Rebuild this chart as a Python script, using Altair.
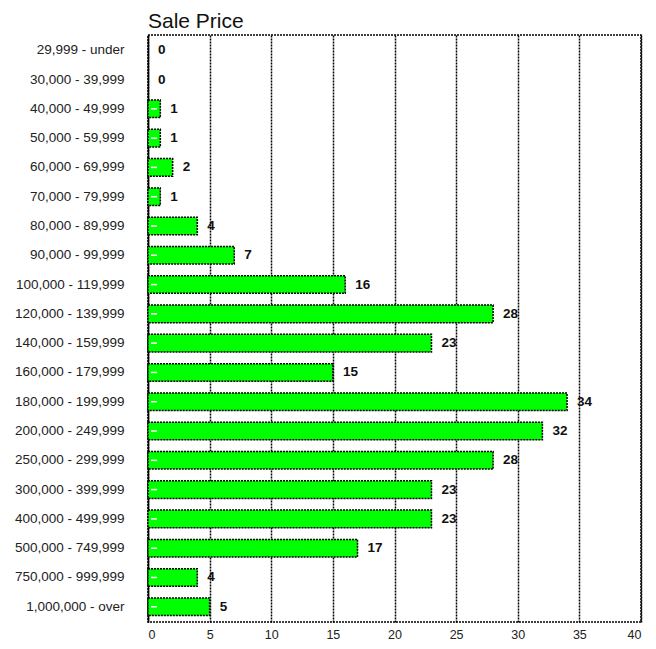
import altair as alt
import pandas as pd

categories = ["29,999 - under", "30,000 - 39,999", "40,000 - 49,999", "50,000 - 59,999",
              "60,000 - 69,999", "70,000 - 79,999", "80,000 - 89,999", "90,000 - 99,999",
              "100,000 - 119,999", "120,000 - 139,999", "140,000 - 159,999", "160,000 - 179,999",
              "180,000 - 199,999", "200,000 - 249,999", "250,000 - 299,999", "300,000 - 399,999",
              "400,000 - 499,999", "500,000 - 749,999", "750,000 - 999,999", "1,000,000 - over"]
counts = [0, 0, 1, 1, 2, 1, 4, 7, 16, 28, 23, 15, 34, 32, 28, 23, 23, 17, 4, 5]
x_ticks = [0, 5, 10, 15, 20, 25, 30, 35, 40]

df = pd.DataFrame({"range": categories, "count": counts})
FONT = "Liberation Sans"

y = alt.Y("range:N", sort=categories, title=None,
          scale=alt.Scale(paddingInner=0.4, paddingOuter=0.22),
          axis=alt.Axis(ticks=False, labelPadding=24, labelFontSize=13.5, labelColor="#222",
                        labelFont=FONT, domainColor="black", domainWidth=1.5))
x = alt.X("count:Q", title=None,
          scale=alt.Scale(domain=[0, 40], nice=False),
          axis=alt.Axis(values=x_ticks, ticks=False, domain=False, labelPadding=6,
                        labelFontSize=12.5, labelColor="#222", labelFont=FONT,
                        grid=True, gridColor="black", gridDash=[2, 1], gridWidth=1.5))

bars = alt.Chart(df).transform_filter("datum.count > 0").mark_bar(
    color="#00ff00", stroke="black", strokeDash=[2, 1], strokeWidth=1.5
).encode(x=x, y=y)

marks = alt.Chart(df).transform_filter("datum.count > 0").mark_rule(
    color="white", strokeWidth=1.5
).encode(x=alt.value(3), x2=alt.value(9), y=alt.Y("range:N", sort=categories, bandPosition=0.5))

labels = alt.Chart(df).mark_text(
    align="left", dx=10, fontWeight="bold", fontSize=13.5, font=FONT, color="#111"
).encode(x=x, y=y, text="count:Q")

chart = alt.layer(bars, marks, labels).properties(
    width=493, height=587,
    title=alt.TitleParams("Sale Price", anchor="start", frame="group", fontSize=21,
                          fontWeight="normal", font=FONT, color="#111", offset=3),
    autosize=alt.AutoSizeParams(type="none"),
    padding={"left": 140, "top": 27, "right": 7, "bottom": 19},
).configure_view(stroke="black", strokeDash=[2, 1], strokeWidth=1.5)

chart.save("out.html", embed_options={"renderer": "svg", "actions": False})
